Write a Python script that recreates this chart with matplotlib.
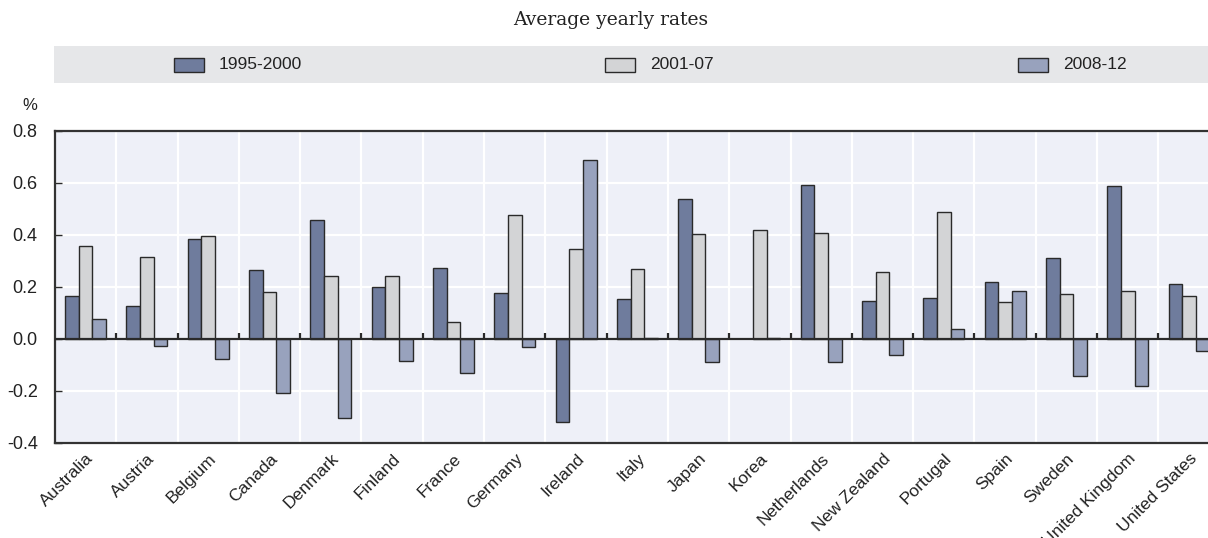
import numpy as np
import matplotlib
matplotlib.use("Agg")
import matplotlib.pyplot as plt
from matplotlib.patches import Rectangle

countries = ["Australia", "Austria", "Belgium", "Canada", "Denmark", "Finland",
             "France", "Germany", "Ireland", "Italy", "Japan", "Korea",
             "Netherlands", "New Zealand", "Portugal", "Spain", "Sweden",
             "United Kingdom", "United States"]
period_labels = ["1995-2000", "2001-07", "2008-12"]
rates_1995_2000 = [0.165, 0.124, 0.385, 0.262, 0.456, 0.197, 0.270, 0.176, -0.323,
                   0.153, 0.537, np.nan, 0.590, 0.144, 0.157, 0.218, 0.311, 0.586, 0.210]
rates_2001_07 = [0.357, 0.312, 0.393, 0.180, 0.240, 0.240, 0.064, 0.476, 0.344,
                 0.267, 0.402, 0.416, 0.408, 0.256, 0.488, 0.140, 0.173, 0.182, 0.164]
rates_2008_12 = [0.077, -0.030, -0.078, -0.211, -0.305, -0.088, -0.132, -0.032, 0.687,
                 0.003, -0.092, 0.002, -0.090, -0.065, 0.036, 0.183, -0.143, -0.183, -0.048]
y_ticks = [-0.4, -0.2, 0.0, 0.2, 0.4, 0.6, 0.8]

series = [rates_1995_2000, rates_2001_07, rates_2008_12]
colors = ["#6f7c9d", "#d3d4d6", "#98a2bd"]
edge = "#2a2a2a"
bg = "#eef0f8"

sans = ["Liberation Sans Narrow", "Liberation Sans", "DejaVu Sans"]
plt.rcParams["font.family"] = sans

W, H = 1208, 538
fig = plt.figure(figsize=(W / 100, H / 100), dpi=100)

n = len(countries)
left_px, cat_px = 55, 61.3
ax_left = left_px / W
ax_w = n * cat_px / W
ax_bottom = 1 - 442.5 / H
ax_top = 1 - 130.7 / H
ax = fig.add_axes([ax_left, ax_bottom, ax_w, ax_top - ax_bottom])
ax.set_facecolor(bg)

x = np.arange(n)
bw = 0.223
for i, (vals, c) in enumerate(zip(series, colors)):
    ax.bar(x + (i - 1) * bw, vals, width=bw, color=c, edgecolor=edge,
           linewidth=1.0, zorder=3, label=period_labels[i])

ax.set_xlim(-0.5, n - 0.5)
ax.set_ylim(-0.4, 0.8)
ax.set_yticks(y_ticks)
ax.set_yticklabels([f"{v:.1f}" for v in y_ticks], fontsize=13, color="#222222")
ax.set_xticks(x)
ax.set_xticklabels(countries, rotation=45, ha="right", va="top",
                   rotation_mode="anchor", fontsize=12.5, color="#222222")
ax.tick_params(axis="x", length=0, pad=6)
ax.tick_params(axis="y", direction="in", length=5, width=1, color=edge, pad=12.5)

# white grid: horizontal at ticks, vertical between countries
ax.grid(axis="y", color="white", linewidth=1.6, zorder=1)
for b in np.arange(0.5, n - 0.5, 1.0):
    ax.axvline(b, color="white", linewidth=1.6, zorder=1)
ax.vlines(np.arange(0.5, n - 0.5, 1.0), 0, 0.022, color=edge, linewidth=1.6, zorder=4)
ax.axhline(0, color=edge, linewidth=1.6, zorder=4)

for s in ["top", "bottom", "left"]:
    ax.spines[s].set_color("#333333")
    ax.spines[s].set_linewidth(1.6)
ax.spines["right"].set_visible(False)

fig.text(30 / W, 1 - 105 / H, "%", fontsize=12, ha="center", va="center",
         color="#222222")

# legend band
band = Rectangle((54 / W, 1 - 82.7 / H), 1 - 54 / W, (82.7 - 46) / H,
                 transform=fig.transFigure, facecolor="#e6e7e9", edgecolor="none")
fig.patches.append(band)
legend_x = [174, 605, 1018]
for lx, lab, c in zip(legend_x, period_labels, colors):
    fig.patches.append(Rectangle((lx / W, 1 - 71.5 / H), 30 / W, 13.5 / H,
                                 transform=fig.transFigure, facecolor=c,
                                 edgecolor=edge, linewidth=1.0))
    fig.text((lx + 45) / W, 1 - 64.5 / H, lab, fontsize=12.5, ha="left",
             va="center", color="#222222")

fig.text(611 / W, 1 - 20 / H, "Average yearly rates", fontsize=13.5,
         ha="center", va="center", family=["DejaVu Serif"], color="#222222")

fig.savefig("out.png", dpi=100)
